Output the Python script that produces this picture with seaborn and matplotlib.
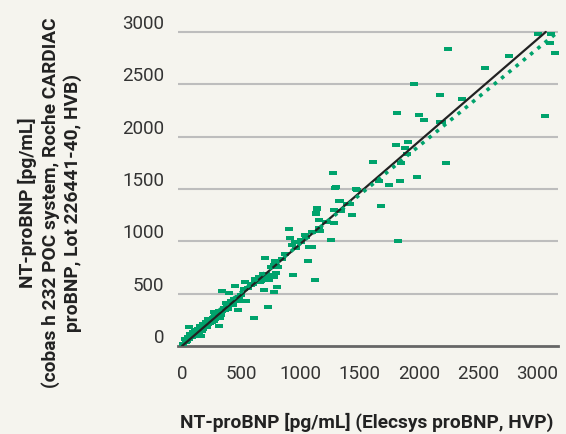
import matplotlib
matplotlib.use("Agg")
import matplotlib.pyplot as plt
import seaborn as sns
import pandas as pd

# ---- data ----
x_hvp = [3000, 3115, 3109, 3151, 2763, 2553, 2241, 1955, 2173, 2359, 1811, 1997, 2039, 2190, 3067,
         1803, 1904, 1879, 1895, 1609, 1845, 2224, 1980, 1837, 1744, 1660, 1676, 1820, 1272, 1289,
         1466, 1331, 1415, 1432, 1297, 1474, 1323, 1392, 1137, 1129, 1281, 1342, 1154, 1281, 1215,
         1139, 1131, 1156, 1165, 901, 910, 1255, 954, 927, 1070, 1095, 1063, 699, 783, 750,
         809, 793, 792, 935, 699, 758, 1120, 800, 615, 775, 691, 447, 337, 396, 531,
         582, 658, 667, 700, 734, 776, 709, 734, 776, 725, 607, 472, 312, 59, 531,
         464, 413, 405, 380, 540, 371, 413, 388, 321, 312, 270, 278, 253, 211, 177,
         152, 135, 110, 93, 68, 51, 25, 10, 160, 2177, 1000, 1050, 840, 870, 960,
         1000, 1040, 1100, 120, 140, 160, 180, 200, 220, 230, 250, 260, 280, 290,
         300, 320, 340, 350, 100, 80, 60, 40, 200, 240, 130, 170, 190, 210, 30,
         150, 220, 270, 300, 330, 360, 420, 440, 480, 500, 520, 560, 600, 620, 650,
         680, 430]
y_poc = [2985, 2985, 2894, 2798, 2770, 2655, 2837, 2502, 2397, 2359, 2225, 2206, 2159, 2139, 2197,
         1920, 1948, 1891, 1834, 1757, 1748, 1748, 1614, 1576, 1538, 1576, 1337, 1003, 1652, 1509,
         1500, 1385, 1356, 1251, 1519, 1490, 1385, 1356, 1308, 1270, 1299, 1289, 1203, 1175, 1184,
         1318, 1261, 1127, 1098, 1117, 1031, 1012, 993, 965, 946, 946, 812, 840, 812, 755,
         755, 764, 697, 678, 659, 669, 630, 564, 621, 516, 535, 573, 525, 506, 611,
         583, 611, 621, 669, 678, 774, 688, 630, 659, 372, 267, 344, 191, 181, 430,
         430, 430, 401, 382, 430, 411, 392, 353, 267, 334, 325, 287, 258, 229, 210,
         191, 162, 143, 134, 115, 86, 67, 20, 96, 2139, 1010, 1040, 830, 880, 940,
         990, 1060, 1090, 130, 120, 170, 160, 190, 210, 240, 230, 270, 260, 300,
         290, 310, 330, 360, 110, 90, 70, 50, 230, 220, 150, 140, 200, 180, 40,
         100, 260, 240, 320, 300, 340, 410, 450, 470, 490, 540, 550, 590, 640, 660,
         690, 390]

ident_x = [0, 3070]
ident_y = [0, 3000]
reg_x = [0, 3160]
reg_y = [50, 2989]

x_ticks = [0, 500, 1000, 1500, 2000, 2500, 3000]
y_ticks = [0, 500, 1000, 1500, 2000, 2500, 3000]

x_label = "NT-proBNP [pg/mL] (Elecsys proBNP, HVP)"
y_label = "NT-proBNP [pg/mL]\n(cobas h 232 POC system, Roche CARDIAC\nproBNP, Lot 226441-40, HVB)"

# ---- style ----
bg = "#f5f4ee"
green = "#00a36c"
sns.set_theme(style="white")
plt.rcParams["font.family"] = ["Roboto", "DejaVu Sans"]

fig = plt.figure(figsize=(5.66, 4.35), dpi=100, facecolor=bg)
ax = fig.add_axes([178 / 566, (435 - 347) / 435, 380 / 566, 335 / 435])
ax.set_facecolor(bg)

df = pd.DataFrame({"x": x_hvp, "y": y_poc})
rect = [(-1, -0.5), (1, -0.5), (1, 0.5), (-1, 0.5), (-1, -0.5)]
sns.scatterplot(data=df, x="x", y="y", marker=rect, s=26, color=green,
                linewidth=0, ax=ax, zorder=3, clip_on=False)

sns.lineplot(x=ident_x, y=ident_y, color="#222222", linewidth=1.6, ax=ax, zorder=4)
sns.lineplot(x=reg_x, y=reg_y, color=green, linewidth=2.6, ax=ax, zorder=4)
ax.lines[-1].set_linestyle((0, (1, 1.6)))

ax.set_xlim(-34, 3173)
ax.set_ylim(0, 3200)
ax.set_xticks(x_ticks)
ax.set_yticks(y_ticks)
ax.set_xticklabels([str(v) for v in x_ticks])
ax.set_yticklabels([str(v) for v in y_ticks])
ax.tick_params(axis="x", length=0, pad=13, labelsize=13.5, labelcolor="#333333")
ax.tick_params(axis="y", length=0, pad=10, labelsize=13.5, labelcolor="#333333")
for lab in ax.get_yticklabels():
    lab.set_verticalalignment("bottom")

for v in y_ticks[1:]:
    ax.axhline(v, color="#bdbdbd", linewidth=1.5, zorder=1)

for side in ["top", "right", "left"]:
    ax.spines[side].set_visible(False)
ax.spines["bottom"].set_color("#666666")
ax.spines["bottom"].set_linewidth(2)

ax.set_xlabel("")
ax.set_ylabel("")
fig.text(367 / 566, 1 - 422 / 435, x_label, ha="center", va="center",
         fontsize=13.8, fontweight="bold", color="#222222")
fig.text(50 / 566, 1 - 203 / 435, y_label, ha="center", va="center", rotation=90,
         fontsize=13.8, fontweight="bold", color="#222222", linespacing=1.25,
         multialignment="center")

fig.savefig("out.png", dpi=100, facecolor=bg)
